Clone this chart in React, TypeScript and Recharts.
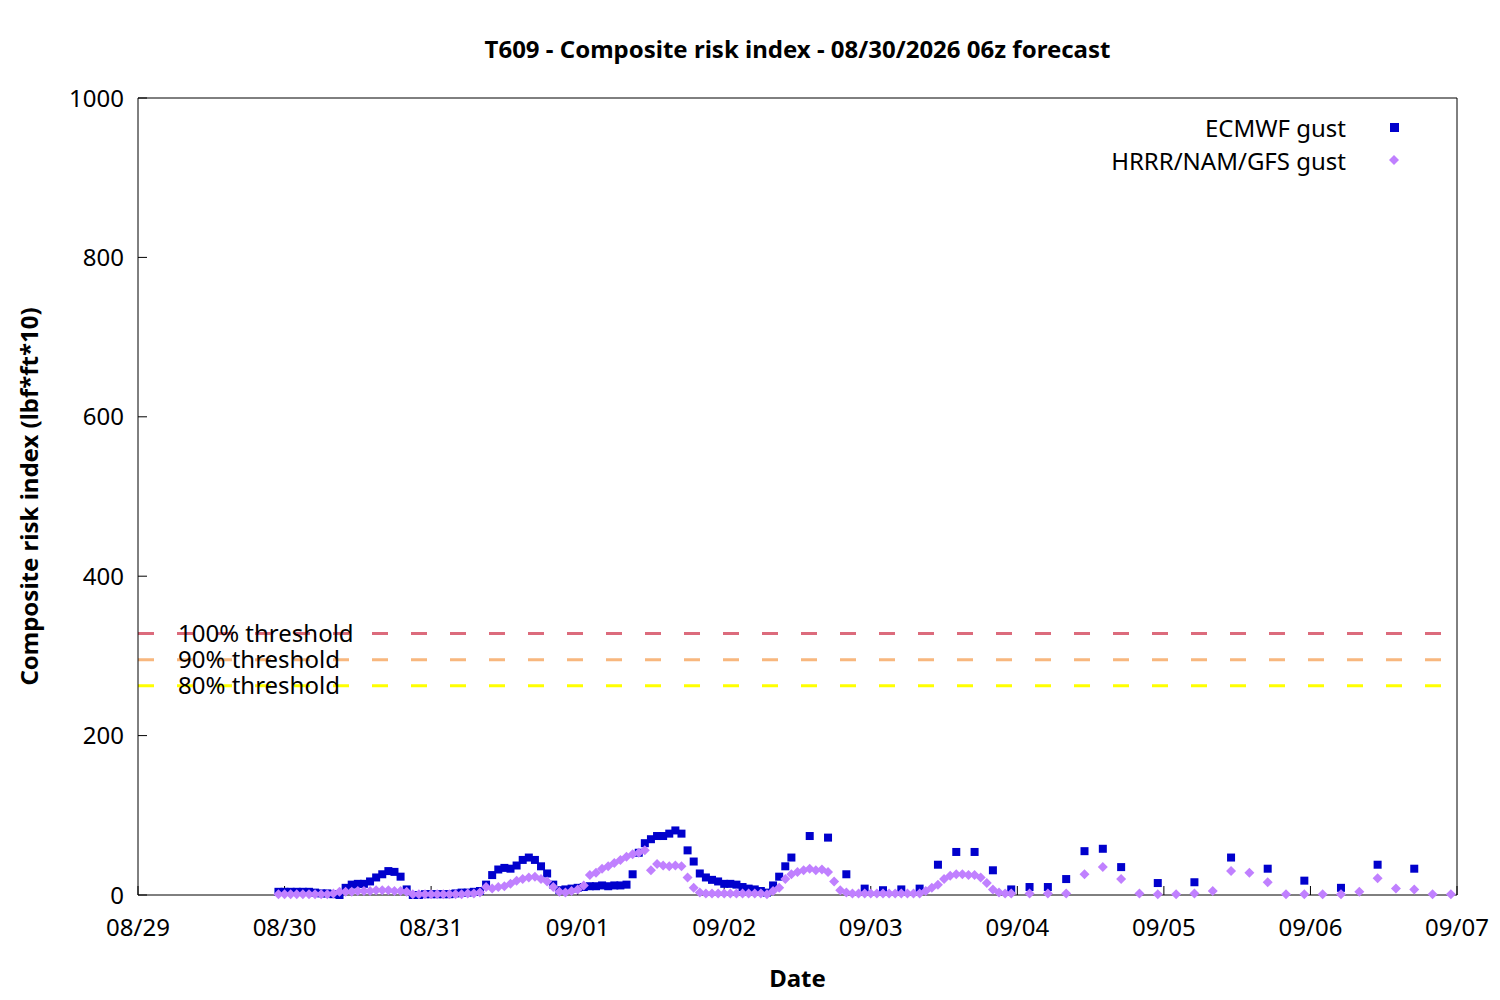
import { Legend, ReferenceLine, Scatter, ScatterChart, XAxis, YAxis } from 'recharts';

const FONT = '"Noto Sans", sans-serif';
const ECMWF_COLOR = '#0000cc';
const BLEND_COLOR = '#c080ff';

// hours since 08/29 00 local
const DAY_TICKS = [0, 24, 48, 72, 96, 120, 144, 168, 192, 216];
const DAY_LABELS = ['08/29', '08/30', '08/31', '09/01', '09/02', '09/03', '09/04', '09/05', '09/06', '09/07'];
const VALUE_TICKS = [0, 200, 400, 600, 800, 1000];

const THRESHOLD_VALUES = [328, 295.2, 262.4];
const THRESHOLD_LABELS = ['100% threshold', '90% threshold', '80% threshold'];
const THRESHOLD_COLORS = ['#dc6b7c', '#f8b77e', '#ffff00'];

const ECMWF_HOURS = [
  23, 24, 25, 26, 27, 28, 29, 30, 31, 32, 33, 34, 35, 36, 37, 38, 39, 40, 41, 42, 43, 44,
  45, 46, 47, 48, 49, 50, 51, 52, 53, 54, 55, 56, 57, 58, 59, 60, 61, 62, 63, 64, 65, 66, 67, 68,
  69, 70, 71, 72, 73, 74, 75, 76, 77, 78, 79, 80, 81, 82, 83, 84, 85, 86, 87, 88, 89, 90, 91, 92,
  93, 94, 95, 96, 97, 98, 99, 100, 101, 102, 103, 104, 105, 106, 107,
  110, 113, 116, 119, 122, 125, 128, 131, 134, 137, 140, 143, 146, 149, 152, 155, 158, 161,
  167, 173, 179, 185, 191, 197, 203, 209,
];
const ECMWF_VALUES = [
  4, 4, 4, 4, 4, 4, 3, 2, 2, 1, 0, 9, 13, 14, 14, 17, 22, 26, 30, 29, 23, 7,
  0, 0, 1, 1, 1, 1, 1, 2, 3, 3, 4, 5, 13, 25, 32, 34, 33, 37, 44, 47, 44, 36, 27, 13,
  6, 7, 8, 9, 10, 11, 11, 12, 11, 12, 12, 13, 26, 53, 65, 70, 74, 74, 77, 81, 77, 56, 42, 27,
  22, 19, 17, 14, 14, 13, 10, 8, 7, 5, 3, 12, 23, 36, 47,
  74, 72, 26, 8, 6, 7, 8, 38, 54, 54, 31, 7, 10, 10, 20, 55, 58, 35,
  15, 16, 47, 33, 18, 9, 38, 33,
];

const BLEND_HOURS = [
  23, 24, 25, 26, 27, 28, 29, 30, 31, 32, 33, 34, 35, 36, 37, 38, 39, 40, 41, 42, 43, 44,
  45, 46, 47, 48, 49, 50, 51, 52, 53, 54, 55, 56, 57, 58, 59, 60, 61, 62, 63, 64, 65, 66, 67, 68,
  69, 70, 71, 72, 73, 74, 75, 76, 77, 78, 79, 80, 81, 82, 83, 84, 85, 86, 87, 88, 89, 90, 91, 92,
  93, 94, 95, 96, 97, 98, 99, 100, 101, 102, 103, 104, 105, 106, 107, 108, 109, 110, 111, 112,
  113, 114, 115, 116, 117, 118, 119, 120, 121, 122, 123, 124, 125, 126, 127, 128, 129, 130, 131,
  132, 133, 134, 135, 136, 137, 138, 139, 140, 141, 142, 143,
  146, 149, 152, 155, 158, 161, 164, 167, 170, 173, 176, 179, 182, 185, 188, 191, 194, 197, 200,
  203, 206, 209, 212, 215,
];
const BLEND_VALUES = [
  1, 1, 1, 1, 1, 1, 1, 1, 1, 2, 4, 4, 4, 5, 5, 5, 6, 6, 6, 5, 5, 4,
  1, 1, 1, 1, 1, 1, 1, 1, 1, 2, 2, 3, 10, 8, 10, 11, 14, 18, 20, 22, 23, 20, 17, 10,
  4, 3, 5, 7, 12, 25, 28, 33, 36, 40, 44, 48, 51, 53, 56, 31, 39, 37, 36, 37, 36, 22, 9, 3,
  2, 2, 2, 2, 2, 2, 2, 2, 2, 2, 1, 5, 9, 20, 26, 29, 31, 33, 31, 32,
  29, 17, 6, 3, 2, 2, 2, 2, 2, 2, 2, 2, 2, 2, 2, 2, 5, 9, 13,
  20, 24, 26, 26, 25, 25, 22, 15, 7, 3, 2, 2,
  2, 2, 2, 26, 35, 20, 2, 1, 1, 2, 5, 30, 28, 16, 1, 1, 1, 1, 4,
  21, 8, 7, 1, 1,
];

const ecmwfData = ECMWF_HOURS.map((hour, i) => ({ hour, value: ECMWF_VALUES[i] }));
const blendData = BLEND_HOURS.map((hour, i) => ({ hour, value: BLEND_VALUES[i] }));

const textStyle = { fill: '#000', fontSize: 24, fontFamily: FONT };
const boldText = { ...textStyle, fontWeight: 700 };

function SquareMark(props: any) {
  const { cx, cy } = props;
  return <rect x={cx - 4} y={cy - 4} width={8} height={8} fill={ECMWF_COLOR} />;
}

function DiamondMark(props: any) {
  const { cx, cy } = props;
  return <polygon points={`${cx},${cy - 5} ${cx + 5},${cy} ${cx},${cy + 5} ${cx - 5},${cy}`} fill={BLEND_COLOR} />;
}

const KEY_ROWS = [
  { name: 'ECMWF gust', mark: 'square' },
  { name: 'HRRR/NAM/GFS gust', mark: 'diamond' },
];

function KeyBox() {
  return (
    <div style={{ fontFamily: FONT, fontSize: 24, color: '#000' }}>
      {KEY_ROWS.map((row) => (
        <div key={row.name} style={{ display: 'flex', alignItems: 'center', justifyContent: 'flex-end', height: 33 }}>
          <span style={{ lineHeight: '33px' }}>{row.name}</span>
          <svg width={96} height={33}>
            {row.mark === 'square' ? (
              <rect x={44} y={12} width={9} height={9} fill={ECMWF_COLOR} />
            ) : (
              <polygon points="48,11 53,16 48,21 43,16" fill={BLEND_COLOR} />
            )}
          </svg>
        </div>
      ))}
    </div>
  );
}

export default function App() {
  return (
    <div style={{ width: 1500, height: 1000, background: '#fff' }}>
      <style>{'body{margin:0}'}</style>
      <ScatterChart width={1500} height={1000} margin={{ top: 0, right: 42, bottom: 0, left: 0 }}>
        <XAxis
          dataKey="hour"
          type="number"
          domain={[0, 216]}
          ticks={DAY_TICKS}
          interval={0}
          tickFormatter={(h) => DAY_LABELS[DAY_TICKS.indexOf(h)]}
          height={105}
          tickSize={-9}
          tickMargin={33}
          axisLine={{ stroke: '#000' }}
          tickLine={{ stroke: '#000' }}
          tick={textStyle}
          label={{ value: 'Date', position: 'insideBottom', offset: 13, ...boldText }}
        />
        <XAxis
          xAxisId="top"
          orientation="top"
          dataKey="hour"
          type="number"
          domain={[0, 216]}
          ticks={DAY_TICKS}
          interval={0}
          height={98}
          tickSize={-9}
          axisLine={{ stroke: '#000' }}
          tickLine={{ stroke: '#000' }}
          tick={false}
          label={{
            value: 'T609 - Composite risk index - 08/30/2026 06z forecast',
            position: 'insideTop',
            offset: 41,
            ...boldText,
          }}
        />
        <YAxis
          dataKey="value"
          type="number"
          domain={[0, 1000]}
          ticks={VALUE_TICKS}
          interval={0}
          width={138}
          tickSize={-9}
          tickMargin={23}
          axisLine={{ stroke: '#000' }}
          tickLine={{ stroke: '#000' }}
          tick={textStyle}
          label={{
            value: 'Composite risk index (lbf*ft*10)',
            position: 'insideLeft',
            angle: -90,
            offset: 29,
            ...boldText,
            style: { textAnchor: 'middle' },
          }}
        />
        <YAxis
          yAxisId="right"
          orientation="right"
          dataKey="value"
          type="number"
          domain={[0, 1000]}
          ticks={VALUE_TICKS}
          interval={0}
          width={1}
          tickSize={-9}
          axisLine={{ stroke: '#000' }}
          tickLine={{ stroke: '#000' }}
          tick={false}
        />
        {THRESHOLD_VALUES.map((v, i) => (
          <ReferenceLine
            key={THRESHOLD_LABELS[i]}
            y={v}
            stroke={THRESHOLD_COLORS[i]}
            strokeWidth={3}
            strokeDasharray="16 23"
            label={{ value: THRESHOLD_LABELS[i], position: 'insideLeft', offset: 40, ...textStyle }}
          />
        ))}
        <Scatter name="ECMWF gust" data={ecmwfData} shape={SquareMark} isAnimationActive={false} />
        <Scatter name="HRRR/NAM/GFS gust" data={blendData} shape={DiamondMark} isAnimationActive={false} />
        <Legend
          layout="vertical"
          verticalAlign="middle"
          align="center"
          content={KeyBox}
          wrapperStyle={{ top: 111, left: 1000, width: 442 }}
        />
      </ScatterChart>
    </div>
  );
}
